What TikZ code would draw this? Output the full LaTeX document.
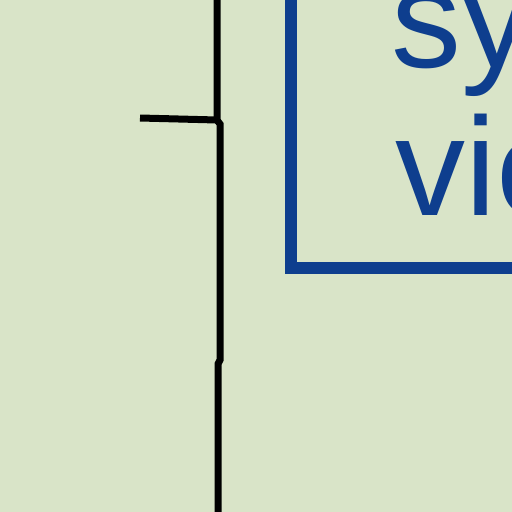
\documentclass[tikz,border=0pt]{standalone}
\usepackage{fontspec}
\setmainfont{Liberation Sans}
\definecolor{bgc}{RGB}{217,228,200}
\definecolor{boxblue}{RGB}{14,62,142}
\begin{document}
\begin{tikzpicture}[x=1pt,y=-1pt,
  wire/.style={draw=black,line width=7pt},
  frame/.style={draw=boxblue,line width=12pt},
  lbl/.style={text=boxblue,font=\fontsize{140}{150}\selectfont,inner sep=0pt,anchor=base west}]
\useasboundingbox (0,0) rectangle (512,512);
\clip (0,0) rectangle (512,512);
\fill[bgc] (0,0) rectangle (512,512);
% connector lines
\coordinate (t0) at (217,-10);
\coordinate (t1) at (217,120);
\coordinate (t2) at (220,124);
\coordinate (t3) at (220,360);
\coordinate (t4) at (218,364);
\coordinate (t5) at (218,520);
\coordinate (h0) at (140,118);
\draw[wire] (t0) -- (t1) -- (t2) -- (t3) -- (t4) -- (t5);
\draw[wire] (h0) -- (t1);
% blue box
\coordinate (b0) at (291,-60);
\coordinate (b1) at (620,268);
\draw[frame] (b0) rectangle (b1);
\node[lbl] (l1) at (391,67) {sy};
\node[lbl] (l2) at (395,215) {vie};
\end{tikzpicture}
\end{document}
